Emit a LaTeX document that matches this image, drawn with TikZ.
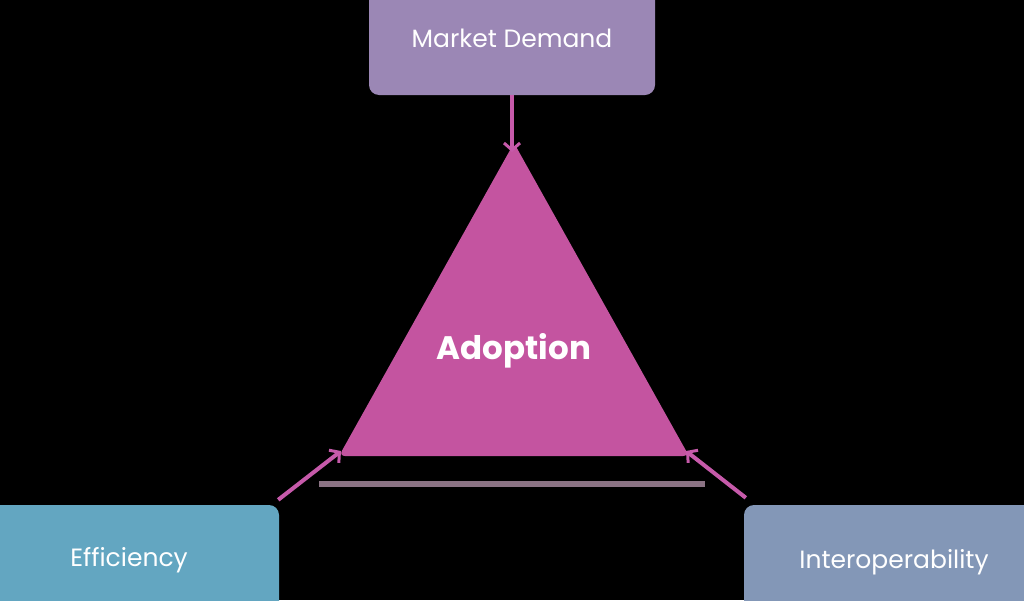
\documentclass[tikz,border=0pt]{standalone}
\usepackage{fontspec}
\setmainfont{Poppins}
\usetikzlibrary{arrows.meta}
\definecolor{mdcol}{HTML}{9B87B5}
\definecolor{effcol}{HTML}{63A6C1}
\definecolor{intcol}{HTML}{8397B7}
\definecolor{tricol}{HTML}{C454A0}
\definecolor{arrcol}{HTML}{C65AAA}
\definecolor{basecol}{HTML}{8B7384}
\tikzset{
  factor/.style={draw=none, rounded corners=10pt, inner sep=0pt},
  label/.style={text=white, font=\fontsize{25}{30}\selectfont, inner sep=0pt},
  link/.style={draw=arrcol, line width=4pt, -{Straight Barb[length=7pt,width=16pt,line width=3pt]}},
}
\begin{document}
\begin{tikzpicture}[x=1pt,y=-1pt]
\useasboundingbox[fill=black] (0,0) rectangle (1024,600);
\begin{scope}
\clip (0,0) rectangle (1024,600);
\node[factor, fill=mdcol, minimum width=286pt, minimum height=116pt] (md) at (512,37) {};
\node[factor, fill=effcol, minimum width=302pt, minimum height=106pt] (eff) at (128,558) {};
\node[factor, fill=intcol, minimum width=300pt, minimum height=110pt] (int) at (894,560) {};
\end{scope}
\node[label] (mdt) at (512,38) {Market Demand};
\node[label] (efft) at (129,560.5) {Efficiency};
\node[label] (intt) at (894,562.5) {Interoperability};
\coordinate (apex) at (514,143);
\coordinate (bl) at (339,456);
\coordinate (br) at (689,456);
\fill[tricol, rounded corners=6pt] (apex) -- (br) -- (bl) -- cycle;
\node[text=white, inner sep=0pt, font=\bfseries\fontsize{32.5}{38}\selectfont] (adopt) at (514,351) {Adoption};
\coordinate (linel) at (319,483.5);
\coordinate (liner) at (705,483.5);
\draw[basecol, line width=6pt] (linel) -- (liner);
\coordinate (apexin) at (512,152);
\coordinate (blin) at (341,451);
\coordinate (brin) at (686,451);
\draw[link] (md.south) -- (apexin);
\draw[link] ([shift={(-1pt,5pt)}]eff.north east) -- (blin);
\draw[link] ([shift={(2pt,7pt)}]int.north west) -- (brin);
\end{tikzpicture}
\end{document}
